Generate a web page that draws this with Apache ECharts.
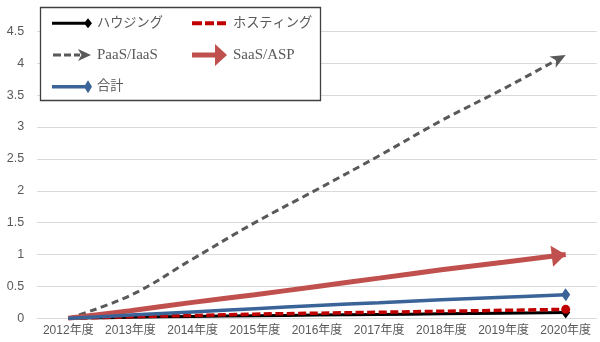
<!DOCTYPE html>
<html>
<head>
<meta charset="utf-8">
<script src="https://cdn.jsdelivr.net/npm/echarts@6/dist/echarts.min.js"></script>
<style>
  html, body { margin: 0; padding: 0; background: #ffffff; }
  #chart { width: 600px; height: 342px; }
</style>
</head>
<body>
<div id="chart"></div>
<script>
// Fiscal years on the category axis
const categories = ['2012年度', '2013年度', '2014年度', '2015年度', '2016年度',
                    '2017年度', '2018年度', '2019年度', '2020年度'];

// Value axis range and step
const yMin = 0;
const yMax = 4.5;
const yStep = 0.5;

// Series names
const names = ['ハウジング', 'ホスティング', 'PaaS/IaaS', 'SaaS/ASP', '合計'];

// Series values per fiscal year
const housing = [0, 0.015, 0.03, 0.04, 0.05, 0.06, 0.07, 0.08, 0.09];
const hosting = [0, 0.025, 0.045, 0.065, 0.08, 0.095, 0.11, 0.125, 0.14];
const paas    = [0, 0.36, 0.93, 1.5, 2.02, 2.55, 3.1, 3.6, 4.13];
const saas    = [0, 0.12, 0.25, 0.37, 0.5, 0.63, 0.76, 0.88, 1.0];
const total   = [0, 0.05, 0.1, 0.15, 0.2, 0.245, 0.29, 0.33, 0.37];

// End-of-line marker shapes (tip of arrows sits on the last point)
const ARROW_SOLID = 'path://M-14,-10.5L0,0L-14,10.5ZM14,0';
const ARROW_STEALTH = 'path://M0,0L-15,-6.5L-11,0L-15,6.5ZM15,0';

// Legend icons: a short line sample with its end marker
const ICON_HOUSING = 'path://M0,0M40,22M0,9.5H34V12.5H0ZM36,6L40,11L36,16L32,11Z';
const ICON_TOTAL   = 'path://M0,0M40,22M0,9.2H34V12.8H0ZM36,4.5L40,11L36,17.5L32,11Z';
const ICON_PAAS    = 'path://M0,0M40,22M1,9.5H9V12.5H1ZM12,9.5H19V12.5H12ZM22,9.5H28V12.5H22ZM39,11L26,5L29.5,11L26,17Z';
const ICON_HOSTING = 'path://M0,0M36,22M0,9H10V13H0ZM13,9H22V13H13ZM25,9H34V13H25Z';
const ICON_SAAS    = 'path://M0,0M36,22M0,8.5H25V13.5H0ZM23,0L35,11L23,22Z';

const FONT_SANS = "'Liberation Sans', 'Noto Sans CJK JP', sans-serif";
const FONT_SERIF = "'Liberation Serif', 'Noto Sans CJK JP', serif";

const chart = echarts.init(document.getElementById('chart'), null, { renderer: 'canvas' });

function withEnd(values, endStyle) {
  return values.map((v, i) => i === values.length - 1
    ? Object.assign({ value: v }, endStyle)
    : v);
}

// Latin names in a serif face, Japanese names slightly smaller
function legendText(name) {
  return /[\u3040-\u30ff\u4e00-\u9fff]/.test(name) ? '{j|' + name + '}' : '{l|' + name + '}';
}

const legendTextStyle = {
  color: '#595959',
  fontFamily: FONT_SERIF,
  fontSize: 15,
  rich: {
    l: { color: '#595959', fontFamily: FONT_SERIF, fontSize: 15 },
    j: { color: '#595959', fontFamily: FONT_SERIF, fontSize: 13.2 }
  }
};

function buildOption(rot) {
  const lineBase = {
    type: 'line',
    smooth: 0.4,
    symbol: 'none',
    showSymbol: true,
    emphasis: { disabled: true },
    silent: true
  };
  return {
    animation: false,
    backgroundColor: '#ffffff',
    grid: { left: 37.2, right: 3.2, top: 31.4, bottom: 23.7, containLabel: false },
    xAxis: {
      type: 'category',
      data: categories,
      boundaryGap: true,
      axisLine: { show: false },
      axisTick: { show: false },
      axisLabel: { color: '#595959', fontSize: 12, fontFamily: FONT_SANS, margin: 6, interval: 0 }
    },
    yAxis: {
      type: 'value',
      min: yMin,
      max: yMax,
      interval: yStep,
      axisLine: { show: false },
      axisTick: { show: false },
      axisLabel: { color: '#595959', fontSize: 12.5, fontFamily: FONT_SANS, margin: 13 },
      splitLine: { lineStyle: { color: '#d9d9d9', width: 1 } }
    },
    graphic: [{
      type: 'rect',
      z: 3,
      shape: { x: 40.5, y: 7.5, width: 280, height: 93 },
      style: { fill: '#ffffff', stroke: '#404040', lineWidth: 1.3 }
    }],
    legend: [{
      left: 52, top: 12.3, orient: 'vertical', padding: 0,
      itemWidth: 40, itemHeight: 22, itemGap: 9.7, z: 5,
      selectedMode: false,
      itemStyle: { borderWidth: 0 },
      formatter: legendText,
      textStyle: legendTextStyle,
      data: [
        { name: names[0], icon: ICON_HOUSING },
        { name: names[2], icon: ICON_PAAS },
        { name: names[4], icon: ICON_TOTAL }
      ]
    }, {
      left: 192, top: 12.3, orient: 'vertical', padding: 0,
      itemWidth: 36, itemHeight: 22, itemGap: 9.7, z: 5,
      selectedMode: false,
      itemStyle: { borderWidth: 0 },
      formatter: legendText,
      textStyle: legendTextStyle,
      data: [
        { name: names[1], icon: ICON_HOSTING },
        { name: names[3], icon: ICON_SAAS }
      ]
    }],
    series: [
      Object.assign({}, lineBase, {
        name: names[0], color: '#000000',
        lineStyle: { color: '#000000', width: 3 },
        data: withEnd(housing, { symbol: 'diamond', symbolSize: [9, 12] })
      }),
      Object.assign({}, lineBase, {
        name: names[1], color: '#c00000',
        lineStyle: { color: '#c00000', width: 3.5, type: [8, 3.5], cap: 'butt' },
        data: withEnd(hosting, { symbol: 'circle', symbolSize: 9 })
      }),
      Object.assign({}, lineBase, {
        name: names[2], color: '#595959',
        lineStyle: { color: '#595959', width: 3, type: [7, 4.5], cap: 'butt' },
        data: withEnd(paas, { symbol: ARROW_STEALTH, symbolSize: [30, 13], symbolRotate: rot.paas })
      }),
      Object.assign({}, lineBase, {
        name: names[3], color: '#c0504d',
        lineStyle: { color: '#c0504d', width: 5 },
        data: withEnd(saas, { symbol: ARROW_SOLID, symbolSize: [28, 21], symbolRotate: rot.saas })
      }),
      Object.assign({}, lineBase, {
        name: names[4], color: '#3a6398',
        lineStyle: { color: '#3a6398', width: 3.5 },
        data: withEnd(total, { symbol: 'diamond', symbolSize: [9, 13], symbolRotate: rot.total })
      })
    ]
  };
}

// Angle (degrees, counter-clockwise) of the final segment of a series on screen
function endAngle(seriesIndex, values) {
  const n = values.length;
  const a = chart.convertToPixel({ seriesIndex: seriesIndex }, [n - 2, values[n - 2]]);
  const b = chart.convertToPixel({ seriesIndex: seriesIndex }, [n - 1, values[n - 1]]);
  return Math.atan2(a[1] - b[1], b[0] - a[0]) * 180 / Math.PI;
}

chart.setOption(buildOption({ paas: 0, saas: 0, total: 0 }));
chart.setOption(buildOption({
  paas: endAngle(2, paas),
  saas: endAngle(3, saas),
  total: endAngle(4, total)
}));
</script>
</body>
</html>
